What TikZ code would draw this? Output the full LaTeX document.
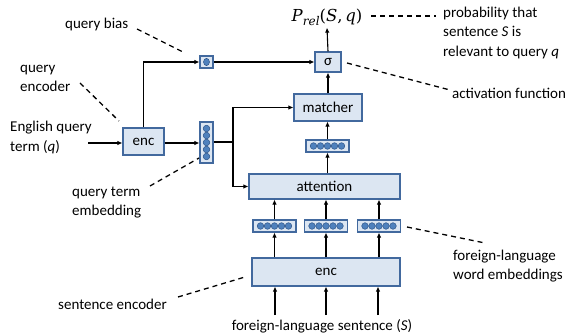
\documentclass[tikz,border=0pt]{standalone}
\usepackage{fontspec}
\setmainfont{Carlito}
\newfontfamily\formulafont{DejaVu Serif}
\usetikzlibrary{arrows.meta}
\definecolor{boxfill}{RGB}{220,230,242}
\definecolor{boxline}{RGB}{66,105,158}
\definecolor{dotfill}{RGB}{79,129,189}
\definecolor{dotline}{RGB}{48,86,138}
\tikzset{
  blk/.style={draw=boxline, fill=boxfill, line width=1.1pt, inner sep=0pt,
              minimum width=#1},
  emb/.style={draw=boxline, fill=boxfill, line width=1.1pt, inner sep=0pt},
  lbl/.style={inner sep=0pt, align=left},
  arr/.style={line width=1.1pt, -{Latex[length=5pt,width=4.5pt]}},
  ln/.style={line width=1.1pt},
  dsh/.style={line width=1.3pt, dash pattern=on 5pt off 4pt},
  dot/.style={fill=dotfill, draw=dotline, line width=0.5pt}
}
\begin{document}
\begin{tikzpicture}[x=1pt,y=-1pt,font=\fontsize{15}{19.5}\selectfont]
\useasboundingbox (0,0) rectangle (571,334);

% query side
\node[blk=41pt, minimum height=27pt] (qenc) at (143.5,141.5) {enc};
\node[emb, minimum width=13pt, minimum height=41pt] (qemb) at (206.5,142.5) {};
\node[emb, minimum width=13pt, minimum height=12pt] (qbias) at (206.5,62) {};
\foreach \k in {-14,-7,0,7,14}
  \draw[dot] ([yshift=\k pt]qemb.center) circle (3.3pt);
\draw[dot] (qbias.center) ellipse (3pt and 3.6pt);

% sentence side
\node[blk=148pt, minimum height=28pt] (senc) at (326,272) {enc};
\foreach \i/\x in {1/274.5,2/326,3/379} {
  \node[emb, minimum width=43pt, minimum height=12pt] (w\i) at (\x,226) {};
  \foreach \k in {-14,-7,0,7,14}
    \draw[dot] ([xshift=\k pt]w\i.center) circle (3.3pt);
}
\node[blk=151pt, minimum height=25pt] (att) at (324.5,186.5) {attention};
\node[emb, minimum width=43pt, minimum height=12pt] (memb) at (327.5,146) {};
\foreach \k in {-14,-7,0,7,14}
  \draw[dot] ([xshift=\k pt]memb.center) circle (3.3pt);
\node[blk=68pt, minimum height=27pt] (match) at (328,107.5) {matcher};
\node[blk=26pt, minimum height=20pt] (sig) at (328,62) {σ};
\node[inner sep=0pt] (prel) at (327,17)
  {\formulafont\fontsize{16.5}{20}\selectfont
   \textit{P}\raisebox{-0.25em}{\fontsize{12}{14}\selectfont\textit{rel}}(\textit{S},\,\textit{q})};

% input/output texts
\node[lbl, anchor=west] (qin) at (10,137.5) {English query\\term (\textit{q})};
\node[inner sep=0pt] (sin) at (322,326) {foreign-language sentence (\textit{S})};

% annotation texts
\node[lbl, anchor=west] (tbias) at (65,25) {query bias};
\node[lbl, anchor=west] (tqenc) at (20,78.5) {query\\encoder};
\node[lbl, anchor=west] (tqemb) at (72,202.5) {query term\\embedding};
\node[lbl, anchor=west] (tsenc) at (58,304) {sentence encoder};
\node[lbl, anchor=west] (twemb) at (453,266) {foreign-language\\word embeddings};
\node[lbl, anchor=west] (tprob) at (443,33) {probability that\\sentence \textit{S} is\\relevant to query \textit{q}};
\node[lbl, anchor=west] (tact) at (452,93) {activation function};

% data flow
\coordinate (qsrc) at (88,143);
\draw[arr] (qsrc) -- (qsrc -| qenc.west);
\draw[arr] (qenc.east |- qsrc) -- (qemb.west |- qsrc);
\draw[arr] (qenc.north) |- (qbias.west);
\draw[arr] (qbias.east) -- (sig.west);
\coordinate (split) at (233,142);
\draw[ln] (qemb.east |- split) -- (split);
\draw[arr] (split) |- (match.west);
\draw[arr] (split) |- (att.west);
\draw[arr] (att.north -| memb) -- (memb.south);
\draw[arr] (memb.north) -- (match.south -| memb);
\draw[arr] (match.north) -- (sig.south);
\draw[arr] (sig.north) -- ([yshift=-2pt]prel.south);
\foreach \i/\x in {1/275,2/326,3/378} {
  \coordinate (in\i) at (\x,315);
  \draw[arr] (in\i) -- (in\i |- senc.south);
  \draw[arr] (w\i |- senc.north) -- (w\i.south);
  \draw[arr] (w\i.north) -- (w\i |- att.south);
}

% annotation leaders
\coordinate (d1a) at (137,29);  \coordinate (d1b) at (183,52);
\coordinate (d2a) at (80,83);   \coordinate (d2b) at (119,121);
\coordinate (d3a) at (150,186); \coordinate (d3b) at (199,158);
\coordinate (d4a) at (178,297); \coordinate (d4b) at (245,277);
\coordinate (d5a) at (407,227); \coordinate (d5b) at (485,243);
\coordinate (d6a) at (371,16);  \coordinate (d6b) at (436,16);
\coordinate (d7a) at (347,63);  \coordinate (d7b) at (450,90);
\foreach \d in {1,...,7}
  \draw[dsh] (d\d a) -- (d\d b);
\end{tikzpicture}
\end{document}
